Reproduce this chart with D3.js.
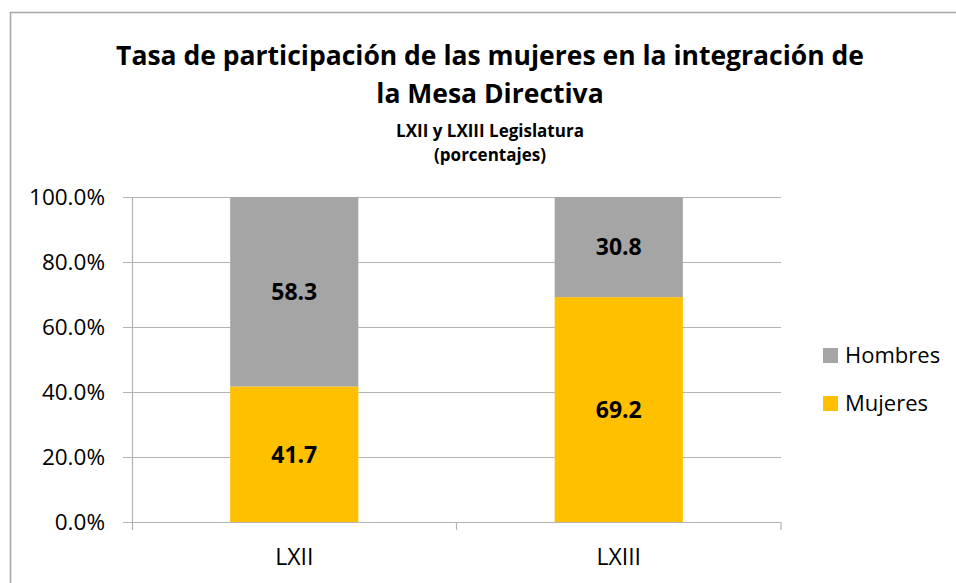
<!DOCTYPE html>
<html>
<head>
<meta charset="utf-8">
<script src="https://cdn.jsdelivr.net/npm/d3@7"></script>
<style>
  body { margin: 0; background: #fff; }
  svg { display: block; font-family: "Open Sans", Lato, sans-serif; }
</style>
</head>
<body>
<div id="chart"></div>
<script>
const categories = ['LXII', 'LXIII'];
const series_names = ['Mujeres', 'Hombres'];
const mujeres = [41.7, 69.2];
const hombres = [58.3, 30.8];
const y_ticks = [0, 20, 40, 60, 80, 100];
const colors = { Mujeres: '#FFC000', Hombres: '#A5A5A5' };

const svg_width = 956, svg_height = 583;
const margin = { top: 197, right: 175, bottom: 61, left: 132 },
  width = svg_width - margin.left - margin.right,
  height = svg_height - margin.top - margin.bottom;

const root = d3.select('#chart')
  .append('svg')
  .attr('width', svg_width)
  .attr('height', svg_height);

// chart frame
root.append('rect')
  .attr('x', 10.5).attr('y', 12.5)
  .attr('width', 960).attr('height', 600)
  .attr('fill', 'none')
  .attr('stroke', '#A6A6A6')
  .attr('stroke-width', 1.5);

// titles
const title = root.append('g').attr('text-anchor', 'middle').attr('fill', '#000');
title.append('text').attr('x', 490).attr('y', 65)
  .style('font-size', '26.5px').style('font-weight', 'bold')
  .text('Tasa de participación de las mujeres en la integración de');
title.append('text').attr('x', 490).attr('y', 103)
  .style('font-size', '26.5px').style('font-weight', 'bold')
  .text('la Mesa Directiva');
title.append('text').attr('x', 490).attr('y', 137)
  .style('font-size', '17px').style('font-weight', 'bold')
  .text('LXII y LXIII Legislatura');
title.append('text').attr('x', 490).attr('y', 161)
  .style('font-size', '17px').style('font-weight', 'bold')
  .text('(porcentajes)');

const g = root.append('g')
  .attr('transform', 'translate(' + margin.left + ',' + margin.top + ')');

const x = d3.scaleBand()
  .domain(categories)
  .range([0, width]);

const y = d3.scaleLinear()
  .domain([0, 100])
  .range([height, 0]);

// gridlines
g.append('g')
  .selectAll('line')
  .data(y_ticks)
  .enter()
  .append('line')
  .attr('x1', -9)
  .attr('x2', width)
  .attr('y1', d => Math.round(y(d)) + 0.5)
  .attr('y2', d => Math.round(y(d)) + 0.5)
  .attr('stroke', '#B3B3B3')
  .attr('stroke-width', 1.2);

// y axis line
g.append('line')
  .attr('x1', 0.5).attr('x2', 0.5)
  .attr('y1', 0).attr('y2', height + 8)
  .attr('stroke', '#B3B3B3')
  .attr('stroke-width', 1.2);

// y tick labels
g.append('g')
  .selectAll('text')
  .data(y_ticks)
  .enter()
  .append('text')
  .attr('x', -27)
  .attr('y', d => y(d))
  .attr('dy', '0.36em')
  .attr('text-anchor', 'end')
  .style('font-size', '22.5px')
  .attr('fill', '#000')
  .text(d => d.toFixed(1) + '%');

// x axis ticks (category boundaries)
g.append('g')
  .selectAll('line')
  .data(categories)
  .enter()
  .append('line')
  .attr('x1', d => x(d) + x.bandwidth())
  .attr('x2', d => x(d) + x.bandwidth())
  .attr('y1', height)
  .attr('y2', height + 8)
  .attr('stroke', '#B3B3B3')
  .attr('stroke-width', 1.2);

// x labels
g.append('g')
  .selectAll('text')
  .data(categories)
  .enter()
  .append('text')
  .attr('x', d => x(d) + x.bandwidth() / 2)
  .attr('y', height + 43)
  .attr('text-anchor', 'middle')
  .style('font-size', '23px')
  .attr('fill', '#000')
  .text(d => d);

// stacked bars
const rows = categories.map((c, i) => ({ cat: c, Mujeres: mujeres[i], Hombres: hombres[i] }));
const stacked = d3.stack().keys(series_names)(rows);
const bar_w = x.bandwidth() * 0.395;

const layers = g.append('g')
  .selectAll('g')
  .data(stacked)
  .enter()
  .append('g')
  .attr('fill', d => colors[d.key]);

layers.selectAll('rect')
  .data(d => d)
  .enter()
  .append('rect')
  .attr('x', d => x(d.data.cat) + (x.bandwidth() - bar_w) / 2)
  .attr('y', d => y(d[1]))
  .attr('width', bar_w)
  .attr('height', d => y(d[0]) - y(d[1]));

layers.selectAll('text')
  .data(d => d.map(v => ({ v: v, key: d.key })))
  .enter()
  .append('text')
  .attr('x', d => x(d.v.data.cat) + x.bandwidth() / 2)
  .attr('y', d => y((d.v[0] + d.v[1]) / 2))
  .attr('dy', '0.36em')
  .attr('text-anchor', 'middle')
  .attr('fill', '#000')
  .style('font-size', '23px')
  .style('font-weight', 'bold')
  .text(d => d.v.data[d.key].toFixed(1));

// legend
const legend = root.append('g')
  .selectAll('g')
  .data(['Hombres', 'Mujeres'])
  .enter()
  .append('g')
  .attr('transform', (d, i) => 'translate(823,' + (348 + i * 48) + ')');

legend.append('rect')
  .attr('width', 15).attr('height', 15)
  .attr('fill', d => colors[d]);

legend.append('text')
  .attr('x', 22).attr('y', 7)
  .attr('dy', '0.36em')
  .style('font-size', '22px')
  .attr('fill', '#000')
  .text(d => d);
</script>
</body>
</html>
